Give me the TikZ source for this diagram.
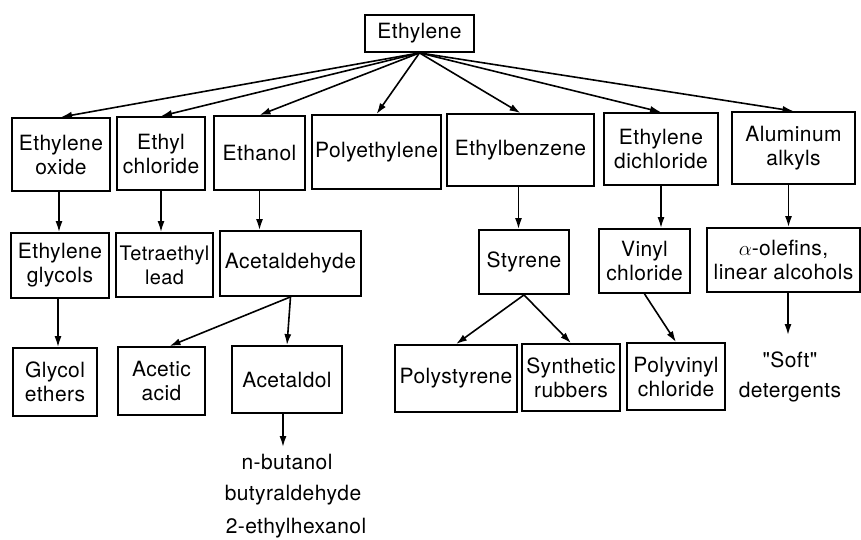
\documentclass[tikz,border=0pt]{standalone}
\usepackage{fontspec}
\setmainfont{TeX Gyre Heros}[LetterSpace=2,Ligatures=TeXOff]
\usetikzlibrary{arrows.meta,calc}
\begin{document}
\begin{tikzpicture}[x=1pt,y=-1pt,
  box/.style={draw,line width=1.8pt,inner sep=0pt,align=center,font=\fontsize{21}{24}\selectfont},
  lbl/.style={inner sep=0pt,align=center,font=\fontsize{21}{30}\selectfont},
  arr/.style={line width=1.6pt,-{Latex[length=11pt,width=7pt]}}]
\useasboundingbox (0,0) rectangle (861,539);
% top
\node[box,minimum width=109pt,minimum height=37pt] (eth) at (419.5,33.5) {Ethylene};
% row 1
\node[box,minimum width=98pt,minimum height=73pt] (eo) at (61,154.5) {Ethylene\\oxide};
\node[box,minimum width=88pt,minimum height=73pt] (ec) at (161,153.5) {Ethyl\\chloride};
\node[box,minimum width=91pt,minimum height=74pt] (etoh) at (259.5,153) {Ethanol};
\node[box,minimum width=129pt,minimum height=74pt] (pe) at (376.5,152) {Polyethylene};
\node[box,minimum width=147pt,minimum height=72pt] (eb) at (520.5,150) {Ethylbenzene};
\node[box,minimum width=114pt,minimum height=72pt] (edc) at (661,149) {Ethylene\\dichloride};
\node[box,minimum width=123pt,minimum height=72pt] (al) at (793.5,148) {Aluminum\\alkyls};
% row 2
\node[box,minimum width=98pt,minimum height=65pt] (eg) at (60,265.5) {Ethylene\\glycols};
\node[box,minimum width=97pt,minimum height=64pt,font=\fontsize{20}{24}\selectfont] (tel) at (164.5,265) {Tetraethyl\\lead};
\node[box,minimum width=141pt,minimum height=65pt] (ald) at (290.5,263.5) {Acetaldehyde};
\node[box,minimum width=90pt,minimum height=64pt] (sty) at (524,262) {Styrene};
\node[box,minimum width=91pt,minimum height=64pt] (vc) at (644.5,261) {Vinyl\\chloride};
\node[box,minimum width=153pt,minimum height=64pt] (ao) at (783.5,260) {$\alpha$-olefins,\\linear alcohols};
% row 3
\node[box,minimum width=84pt,minimum height=68pt] (ge) at (55,382) {Glycol\\ethers};
\node[box,minimum width=87pt,minimum height=68pt] (ac) at (161.5,381) {Acetic\\acid};
\node[box,minimum width=110pt,minimum height=67pt] (aldol) at (287,379.5) {Acetaldol};
\node[box,minimum width=122pt,minimum height=67pt] (ps) at (456,378.5) {Polystyrene};
\node[box,minimum width=98pt,minimum height=67pt] (sr) at (571,377.5) {Synthetic\\rubbers};
\node[box,minimum width=98pt,minimum height=67pt] (pvc) at (676,376.5) {Polyvinyl\\chloride};
% free labels
\node[lbl] (soft) at (790,377) {"Soft"\\detergents};
\node[lbl] (nb) at (287,462) {n-butanol};
\node[lbl] (ba) at (293,495) {butyraldehyde};
\node[lbl] (eh) at (296,528) {2-ethylhexanol};
\coordinate (aoend) at (788,335);
\coordinate (aldend) at (283,447);
% arrows from ethylene
\foreach \t in {eo,ec,etoh,pe,eb,edc,al}
  \draw[arr] (eth.south) -- (\t.north);
% row1 -> row2
\draw[arr] ($(eo.south)+(-2,0)$) -- ($(eo.south |- eg.north)+(-2,0)$);
\draw[arr] (ec.south) -- (ec.south |- tel.north);
\draw[arr] (etoh.south) -- (etoh.south |- ald.north);
\draw[arr] ($(eb.south)+(-2,0)$) -- ($(eb.south |- sty.north)+(-2,0)$);
\draw[arr] (edc.south) -- (edc.south |- vc.north);
\draw[arr] ($(al.south)+(-5,0)$) -- ($(al.south |- ao.north)+(-5,0)$);
% row2 -> row3
\draw[arr] ($(eg.south)+(-2,0)$) -- ($(eg.south |- ge.north)+(-2,0)$);
\draw[arr] (ald.south) -- ($(ac.north)+(8,0)$);
\draw[arr] (ald.south) -- (aldol.north);
\draw[arr] (sty.south) -- (ps.north);
\draw[arr] (sty.south) -- (sr.north);
\draw[arr] (vc.south) -- (pvc.north);
\draw[arr] (ao.south -| aoend) -- (aoend);
\draw[arr] (aldol.south -| aldend) -- (aldend);
\end{tikzpicture}
\end{document}
